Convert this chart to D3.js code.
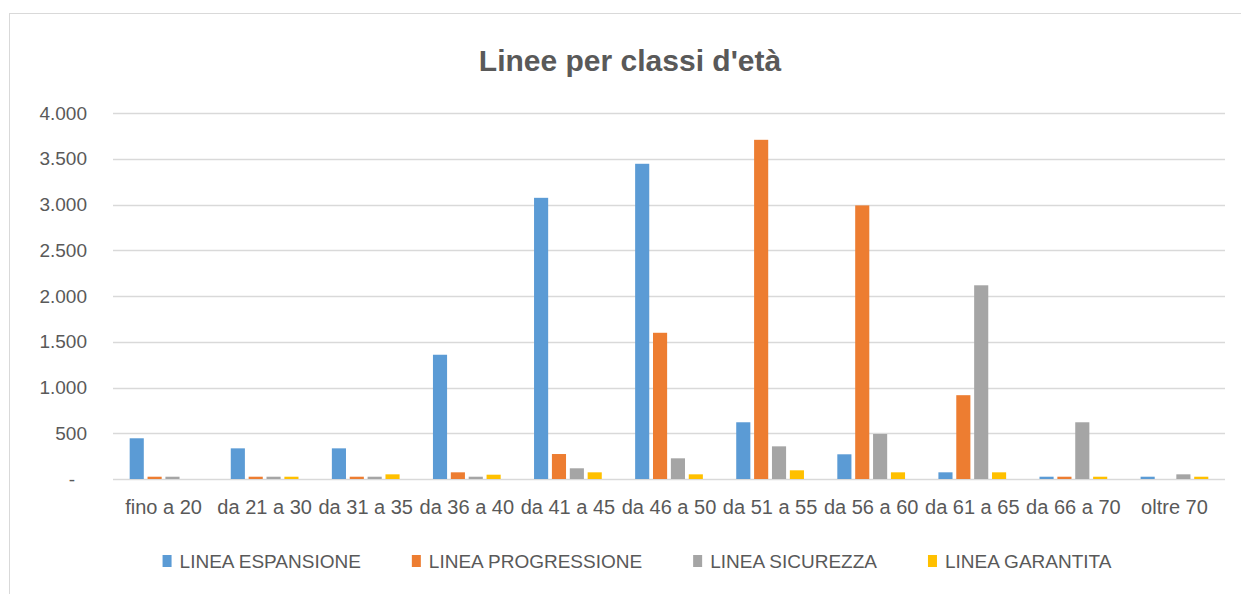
<!DOCTYPE html>
<html>
<head>
<meta charset="utf-8">
<script src="https://cdn.jsdelivr.net/npm/d3@7"></script>
<style>
  html, body { margin: 0; padding: 0; background: #fff; }
  svg { display: block; }
  text { font-family: "Liberation Sans", Arial, sans-serif; fill: #595959; }
</style>
</head>
<body>
<svg id="chart" width="1241" height="594"></svg>
<script>
// Age classes on the x axis
const categories = ["fino a 20", "da 21 a 30", "da 31 a 35", "da 36 a 40", "da 41 a 45",
  "da 46 a 50", "da 51 a 55", "da 56 a 60", "da 61 a 65", "da 66 a 70", "oltre 70"];

// Number of members per investment line
const espansione  = [445, 335, 335, 1358, 3073, 3445, 620, 270, 73, 25, 25];
const progressione = [25, 25, 25, 73, 273, 1598, 3707, 2990, 916, 25, 0];
const sicurezza   = [25, 25, 25, 25, 117, 226, 357, 492, 2117, 620, 51];
const garantita   = [0, 25, 51, 47, 73, 51, 95, 73, 73, 25, 25];

const seriesNames = ["LINEA ESPANSIONE", "LINEA PROGRESSIONE", "LINEA SICUREZZA", "LINEA GARANTITA"];
const yTicks = [0, 500, 1000, 1500, 2000, 2500, 3000, 3500, 4000];

const seriesValues = [espansione, progressione, sicurezza, garantita];
const colors = ["#5B9BD5", "#ED7D31", "#A5A5A5", "#FFC000"];

const svg = d3.select("#chart");

// Outer chart frame
svg.append("rect")
  .attr("x", 9.5).attr("y", 13.5)
  .attr("width", 1245).attr("height", 600)
  .attr("fill", "#fff").attr("stroke", "#d9d9d9").attr("stroke-width", 1);

// Title
svg.append("text")
  .attr("x", 630).attr("y", 71)
  .attr("text-anchor", "middle")
  .attr("font-size", 30).attr("font-weight", "bold")
  .text("Linee per classi d'età");

const plot = { left: 113, right: 1225, top: 113, bottom: 479 };

const y = d3.scaleLinear().domain([0, 4000]).range([plot.bottom, plot.top]);
const x0 = d3.scaleBand().domain(categories).range([plot.left, plot.right])
  .paddingInner(0.33).paddingOuter(0.165);
const x1 = d3.scaleBand().domain(d3.range(seriesNames.length)).range([0, x0.bandwidth()])
  .paddingInner(0.21);

const it = d3.formatLocale({ decimal: ",", thousands: ".", grouping: [3], currency: ["€", ""] });
const fmt = it.format(",.0f");

// Gridlines
svg.append("g")
  .selectAll("line").data(yTicks).join("line")
  .attr("x1", plot.left).attr("x2", plot.right)
  .attr("y1", d => Math.round(y(d)) + 0.5).attr("y2", d => Math.round(y(d)) + 0.5)
  .attr("stroke", "#d9d9d9").attr("stroke-width", 1.3);

// Y axis (labels only)
const yAxis = svg.append("g")
  .attr("transform", `translate(${plot.left - 26},0)`)
  .call(d3.axisLeft(y).tickValues(yTicks).tickSize(0).tickPadding(0)
    .tickFormat(d => d === 0 ? "-" : fmt(d)));
yAxis.select(".domain").remove();
yAxis.selectAll("text")
  .attr("font-size", 19)
  .style("font-family", '"Liberation Sans", Arial, sans-serif')
  .attr("fill", "#595959")
  .attr("dx", d => d === 0 ? -12 : 0);

// Bars
const groups = svg.append("g").selectAll("g")
  .data(categories).join("g")
  .attr("transform", d => `translate(${x0(d)},0)`);

groups.selectAll("rect")
  .data((d, i) => seriesValues.map((vals, s) => ({ s, v: vals[i] })))
  .join("rect")
  .attr("x", d => x1(d.s))
  .attr("width", x1.bandwidth())
  .attr("y", d => y(d.v))
  .attr("height", d => y(0) - y(d.v))
  .attr("fill", d => colors[d.s]);

// X axis (labels only)
const xAxis = svg.append("g")
  .attr("transform", `translate(0,${plot.bottom + 21})`)
  .call(d3.axisBottom(x0).tickSize(0).tickPadding(0));
xAxis.select(".domain").remove();
xAxis.selectAll("text")
  .attr("font-size", 20)
  .style("font-family", '"Liberation Sans", Arial, sans-serif')
  .attr("fill", "#595959");

// Legend
const legend = svg.append("g").attr("transform", "translate(0,561)");
const items = legend.selectAll("g").data(seriesNames).join("g");
items.append("rect")
  .attr("x", 0).attr("y", -6).attr("width", 9).attr("height", 12)
  .attr("fill", (d, i) => colors[i]);
items.append("text")
  .attr("x", 17).attr("dy", "0.35em")
  .attr("font-size", 19)
  .text(d => d);

let widths = [];
items.each(function () { widths.push(17 + this.querySelector("text").getComputedTextLength()); });
const gap = 51;
const total = d3.sum(widths) + gap * (widths.length - 1);
let cx = 637 - total / 2;
items.attr("transform", (d, i) => {
  const t = `translate(${cx},0)`;
  cx += widths[i] + gap;
  return t;
});
</script>
</body>
</html>
